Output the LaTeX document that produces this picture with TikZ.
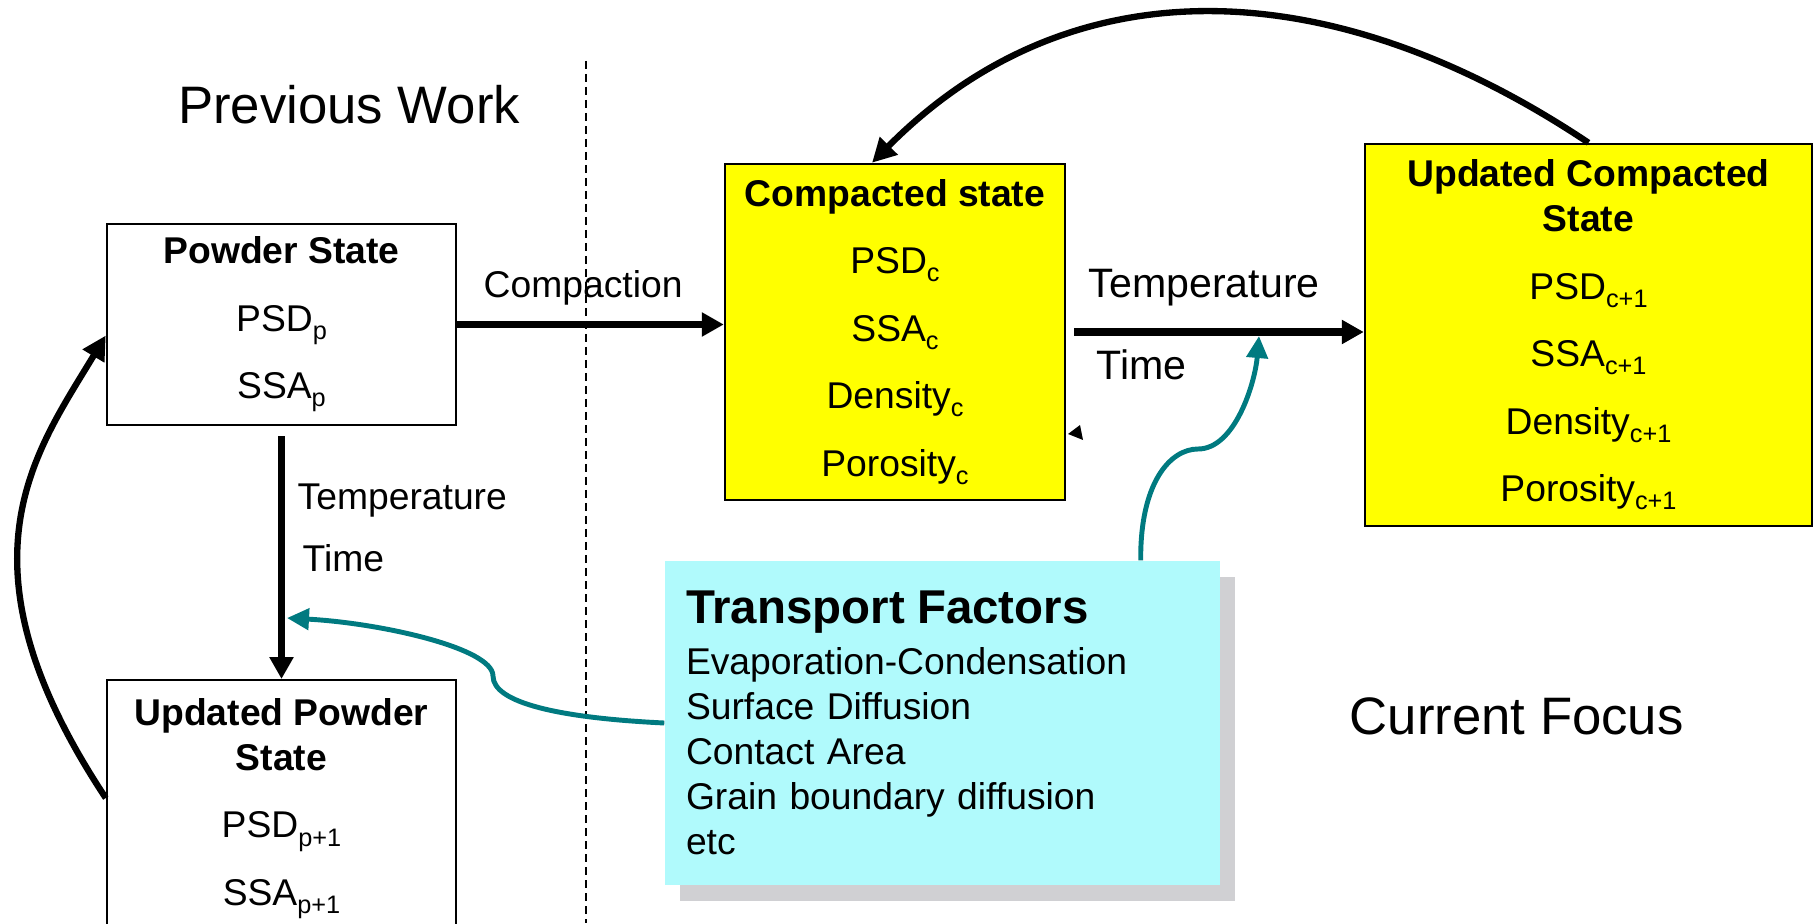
\documentclass[tikz,border=0pt]{standalone}
\usepackage{fontspec}
\setmainfont{Liberation Sans}
\usetikzlibrary{arrows.meta,shadows}
\definecolor{stateyellow}{RGB}{255,255,0}
\definecolor{factcyan}{RGB}{176,250,252}
\definecolor{shadegray}{RGB}{208,208,211}
\definecolor{linkteal}{RGB}{0,122,128}
\newcommand{\lowsub}[1]{\raisebox{-0.22em}{\fontsize{7.2}{8}\selectfont #1}}

\begin{document}
\begin{tikzpicture}[every node/.style={font=\fontsize{10.6}{19.2}\selectfont, inner sep=0pt}]
        \tikzset{box/.style = {draw, line width=0.7pt, align=center},
                 edge/.style = {-{Triangle[length=2.2mm,width=2.3mm]}, line width=2.2pt},
                 loop/.style = {-{Triangle[length=2.4mm,width=2.4mm]}, line width=1.8pt},
                 link/.style = {-{Triangle[length=2.2mm,width=2.1mm]}, line width=1.4pt, linkteal}}
        \useasboundingbox (0,0) rectangle (18.19,9.23);

        % previous work side
        \node[anchor=base west, font=\fontsize{15}{18}\selectfont] (PW) at (1.775,7.99) {Previous Work};
        \node[box, minimum width=3.49cm, minimum height=2.01cm] (PS) at (2.815,5.985)
            {\textbf{Powder State}\\PSD\lowsub{p}\\SSA\lowsub{p}};
        \node[box, minimum width=3.49cm, minimum height=3cm, anchor=north] (UP) at (2.815,2.44) {};
        \node[anchor=north, align=center] (UPT) at (2.815,2.25)
            {\textbf{Updated Powder}\\[-6.5pt]\textbf{State}\\PSD\lowsub{p+1}\\SSA\lowsub{p+1}};

        \draw[dash pattern=on 0.8mm off 0.5mm, line width=0.5pt] (5.86,8.62) -- (5.86,0);

        % current focus side
        \node[box, fill=stateyellow, minimum width=3.40cm, minimum height=3.36cm] (C) at (8.95,5.91)
            {\textbf{Compacted state}\\PSD\lowsub{c}\\SSA\lowsub{c}\\Density\lowsub{c}\\Porosity\lowsub{c}};
        \node[box, fill=stateyellow, minimum width=4.47cm, minimum height=3.82cm] (UC) at (15.885,5.88)
            {\textbf{Updated Compacted}\\[-6.5pt]\textbf{State}\\PSD\lowsub{c+1}\\SSA\lowsub{c+1}\\Density\lowsub{c+1}\\Porosity\lowsub{c+1}};
        \node[fill=factcyan, drop shadow={shadow xshift=0.15cm, shadow yshift=-0.16cm, fill=shadegray, opacity=1},
              minimum height=3.24cm, text width=5.13cm, inner xsep=0.21cm, inner ysep=0pt, align=left,
              font=\fontsize{10.6}{12.8}\selectfont] (TF) at (9.425,2.00)
            {{\fontsize{13.5}{12.8}\selectfont\bfseries Transport Factors}\\[1.7pt]
             Evaporation-Condensation\\Surface Diffusion\\Contact Area\\Grain boundary diffusion\\etc};
        \node[anchor=base west, font=\fontsize{15}{18}\selectfont] (CF) at (13.49,1.89) {Current Focus};

        % arrow labels
        \node[anchor=base west] (LC) at (4.83,6.25) {Compaction};
        \node[anchor=base west, font=\fontsize{11.7}{14}\selectfont] (LT1) at (10.88,6.26) {Temperature};
        \node[anchor=base west, font=\fontsize{11.7}{14}\selectfont] (LM1) at (10.96,5.44) {Time};
        \node[anchor=base west] (LT2) at (2.97,4.14) {Temperature};
        \node[anchor=base west] (LM2) at (3.02,3.52) {Time};

        \draw[edge] (PS.east) -- (PS.east -| C.west);
        \draw[edge] ([xshift=0.08cm]C.east) -- (C.east -| UC.west);
        \draw[edge] ([yshift=-0.1cm]PS.south) -- (UP.north);

        \draw[loop] (UC.north) .. controls (13.3,9.53) and (10.7,9.6) .. ([xshift=-0.23cm]C.north);
        \draw[loop] ([yshift=-1.19cm]UP.north west) .. controls (-0.5,3.6) and (0.35,4.7) .. ([yshift=-0.11cm]PS.west);

        \coordinate (TK1) at (11.98,4.74);
        \coordinate (TT1) at (12.59,5.87);
        \coordinate (TK2) at (4.93,2.47);
        \coordinate (TT2) at (2.87,3.05);
        \draw[link] ([xshift=-0.8cm]TF.north east) .. controls (11.40,4.4) and (11.7,4.74) .. (TK1)
            .. controls (12.35,4.74) and (12.55,5.4) .. (TT1);
        \draw[link] (TF.west) .. controls (5.6,2.05) and (4.93,2.2) .. (TK2)
            .. controls (4.93,2.75) and (3.8,3.0) .. (TT2);

        \fill (10.68,4.89) -- (10.80,4.98) -- (10.83,4.83) -- cycle;
\end{tikzpicture}
\end{document}
